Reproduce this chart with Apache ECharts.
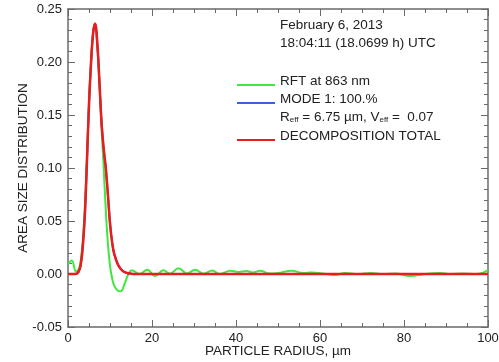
<!DOCTYPE html>
<html>
<head>
<meta charset="utf-8">
<script src="https://cdn.jsdelivr.net/npm/echarts@6/dist/echarts.min.js"></script>
<style>
html,body{margin:0;padding:0;background:#fff;}
#chart{width:499px;height:362px;}
</style>
</head>
<body>
<div id="chart"></div>
<script>
// Radius (µm) and values
var redRadius = [0, 1, 2, 2.5, 3, 3.5, 4, 4.5, 5, 5.5, 6, 6.45, 7, 7.5, 8, 8.5, 9, 9.5, 10, 10.5, 11, 12, 13, 14, 15, 16, 30, 60, 100];
var redValues = [0, 0, 0.0003, 0.002, 0.008, 0.025, 0.055, 0.105, 0.160, 0.200, 0.228, 0.236, 0.216, 0.180, 0.142, 0.118, 0.100, 0.075, 0.048, 0.030, 0.019, 0.008, 0.003, 0.001, 0.0003, 0, 0, 0, 0];

var greenRadius = [0, 0.9, 1.9, 2.5, 3, 3.5, 4, 4.5, 5, 5.5, 6, 6.45, 7, 7.5, 8, 8.5, 9, 9.5, 10, 10.5, 11, 11.8, 12.6, 13.4, 14.4, 15.2, 17.0, 18.9, 20.7, 22.7, 24.3, 26.3, 28.3, 30.3, 32.3, 34.3, 36.2, 38.6, 40.5, 42.5, 44, 45.7, 48, 50, 53.3, 56, 58, 61, 63.5, 66, 69, 72, 75, 78, 81.4, 85, 88.6, 91, 94, 97, 99, 100];
var greenValues = [0.009, 0.0127, 0.0025, 0.004, 0.012, 0.030, 0.062, 0.110, 0.163, 0.203, 0.229, 0.236, 0.214, 0.178, 0.138, 0.100, 0.060, 0.029, 0.008, -0.004, -0.011, -0.0155, -0.0162, -0.010, 0, 0.0035, 0, 0.004, -0.002, 0.0035, 0.0003, 0.0055, 0.0005, 0.004, 0.0003, 0.0032, 0, 0.003, 0.002, 0.0028, 0.0015, 0.003, 0.0005, 0.001, 0.003, 0.001, 0.0015, 0.0003, -0.001, 0.001, 0, 0.001, 0, 0.0005, -0.002, 0, 0.001, 0, 0.0005, 0, 0.0015, 0.004];

// Mode 1 (100%) equals the decomposition total
var blueRadius = redRadius;
var blueValues = redValues;

var xTicks = [0, 20, 40, 60, 80, 100];
var yTicks = [-0.05, 0.00, 0.05, 0.10, 0.15, 0.20, 0.25];

var seriesNames = ['RFT at 863 nm', 'MODE 1: 100.%', 'DECOMPOSITION TOTAL'];
var titleLines = ['February 6, 2013', '18:04:11 (18.0699 h) UTC'];

function pairs(xs, ys) { return xs.map(function (x, i) { return [x, ys[i]]; }); }

var FONT = 'Liberation Sans, Arial, Helvetica, sans-serif';
var TXT = '#222';
var AX = '#6a6a6a';

function axisCommon(showLabel) {
  return {
    axisLine: { show: true, onZero: false, lineStyle: { color: AX, width: 1.5 } },
    axisTick: { show: true, inside: true, length: 7, lineStyle: { color: AX, width: 1 } },
    minorTick: { show: true, length: 4, lineStyle: { color: AX, width: 1 } },
    splitLine: { show: false },
    minorSplitLine: { show: false },
    axisLabel: { show: showLabel, fontSize: 13, fontFamily: FONT, color: TXT }
  };
}

var chart = echarts.init(document.getElementById('chart'), null, { renderer: 'canvas' });

var xBottom = Object.assign(axisCommon(true), {
  type: 'value', position: 'bottom', min: xTicks[0], max: xTicks[xTicks.length - 1], interval: 20,
  name: 'PARTICLE RADIUS, \u00b5m', nameLocation: 'middle', nameGap: 17, nameMoveOverlap: false,
  nameTextStyle: { fontSize: 13.5, fontFamily: FONT, color: TXT }
});
xBottom.minorTick.splitNumber = 4;
xBottom.axisLabel.margin = 5;
var xTop = Object.assign(axisCommon(false), {
  type: 'value', position: 'top', min: xTicks[0], max: xTicks[xTicks.length - 1], interval: 20
});
xTop.minorTick.splitNumber = 4;

var yLeft = Object.assign(axisCommon(true), {
  type: 'value', position: 'left', min: yTicks[0], max: yTicks[yTicks.length - 1], interval: 0.05,
  name: 'AREA SIZE DISTRIBUTION', nameLocation: 'middle', nameGap: 38, nameRotate: 90, nameMoveOverlap: false,
  nameTextStyle: { fontSize: 13.5, fontFamily: FONT, color: TXT }
});
yLeft.minorTick.splitNumber = 5;
yLeft.axisLabel.margin = 6;
yLeft.axisLabel.formatter = function (v) { return (Math.round(v * 100) / 100).toFixed(2); };
var yRight = Object.assign(axisCommon(false), {
  type: 'value', position: 'right', min: yTicks[0], max: yTicks[yTicks.length - 1], interval: 0.05
});
yRight.minorTick.splitNumber = 5;

var legendX = 280, lineX1 = 237, lineX2 = 275;
var tStyle = { fontSize: 13.5, fontFamily: FONT, fill: TXT, verticalAlign: 'middle', align: 'left' };
function txt(t, y, extra) {
  return { type: 'text', x: legendX, y: y, silent: true, style: Object.assign({ text: t }, tStyle, extra || {}) };
}
function ln(y, color) {
  return { type: 'line', silent: true, shape: { x1: lineX1, y1: y, x2: lineX2, y2: y }, style: { stroke: color, lineWidth: 2 } };
}

var option = {
  animation: false,
  backgroundColor: '#fff',
  grid: { left: 68, right: 11, top: 9, bottom: 35, containLabel: false, outerBoundsMode: 'none' },
  xAxis: [xBottom, xTop],
  yAxis: [yLeft, yRight],
  series: [
    { name: seriesNames[0], type: 'line', data: pairs(greenRadius, greenValues), showSymbol: false, symbol: 'none',
      smooth: 0.4, lineStyle: { color: '#3ee83e', width: 2 }, z: 2 },
    { name: seriesNames[1], type: 'line', data: pairs(blueRadius, blueValues), showSymbol: false, symbol: 'none',
      smooth: 0.4, lineStyle: { color: '#3a62e0', width: 2 }, z: 3 },
    { name: seriesNames[2], type: 'line', data: pairs(redRadius, redValues), showSymbol: false, symbol: 'none',
      smooth: 0.4, lineStyle: { color: '#ea1c1c', width: 2.5 }, z: 4 }
  ],
  graphic: [
    txt(titleLines[0], 25),
    txt(titleLines[1], 43.5),
    ln(85, '#3ee83e'), txt(seriesNames[0], 81),
    ln(103, '#3a62e0'), txt(seriesNames[1], 99),
    txt('R{s|eff} = 6.75 \u00b5m, V{s|eff} =  0.07', 117, {
      rich: { s: { fontSize: 8, fontFamily: FONT, fill: TXT, verticalAlign: 'bottom', padding: [6, 0, 0, 0] } }
    }),
    ln(140, '#ea1c1c'), txt(seriesNames[2], 136.5)
  ]
};
chart.setOption(option);
</script>
</body>
</html>
